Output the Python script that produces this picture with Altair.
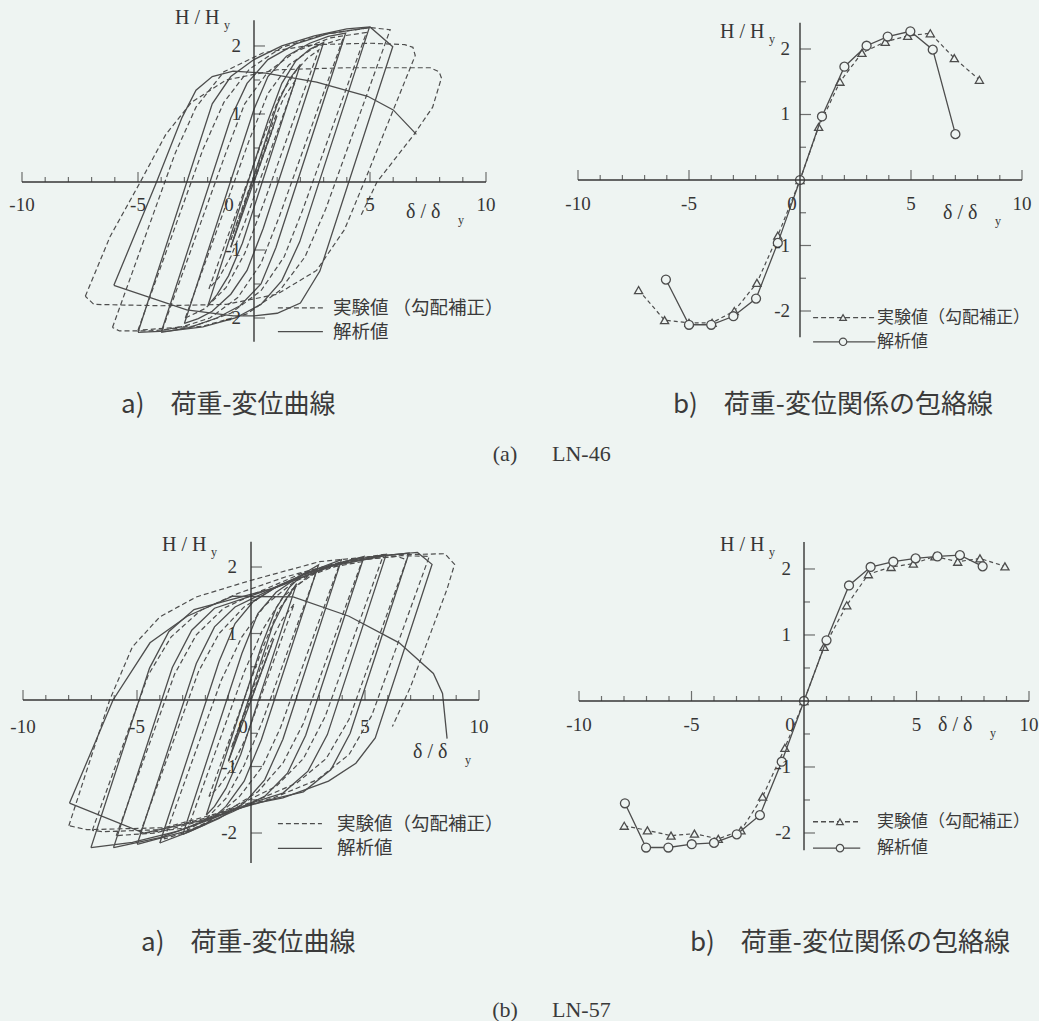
import altair as alt
import pandas as pd

INK = "#363636"
LINE = "#4d4d4d"
BG = "#eef4f2"
SERIF = "Liberation Serif"
JP = "Noto Sans CJK JP"

# ---------------- LN-46 ----------------
# load-displacement loops (δ/δy, H/Hy), one list per loading cycle
ln46_analysis = [
    [(0, 0), (0.99, 0.97), (-1.0, -0.96)],
    [(-1.0, -0.96), (1.0, 1.14), (1.5, 1.5), (2.0, 1.73),
     (-0.5, -0.9), (-1.1, -1.38), (-1.6, -1.66), (-1.98, -1.81)],
    [(-1.98, -1.81), (0.6, 0.9), (1.2, 1.45), (1.8, 1.78), (2.4, 1.95), (3.0, 2.05),
     (0.4, -0.68), (-0.3, -1.3), (-1.0, -1.65), (-1.8, -1.9), (-2.4, -2.01), (-3.0, -2.08)],
    [(-3.0, -2.08), (0.0, 1.07), (0.6, 1.55), (1.4, 1.85), (2.4, 2.04), (3.2, 2.14), (3.95, 2.19),
     (0.95, -0.96), (0.3, -1.5), (-0.6, -1.82), (-1.6, -2.0), (-2.8, -2.14), (-4.0, -2.21)],
    [(-4.0, -2.21), (-1.0, 0.94), (-0.3, 1.45), (0.6, 1.8), (1.8, 2.03), (3.2, 2.18), (4.97, 2.27),
     (1.97, -0.88), (1.2, -1.45), (0.3, -1.8), (-0.8, -2.0), (-2.2, -2.13), (-3.6, -2.19), (-5.0, -2.21)],
    [(-5.0, -2.21), (-1.8, 1.15), (-1.0, 1.55), (0.0, 1.8), (1.2, 2.0), (2.6, 2.15), (4.0, 2.25),
     (5.0, 2.28), (5.98, 1.99),
     (2.84, -1.31), (2.0, -1.78), (1.0, -1.93), (0.0, -1.97), (-0.9, -1.97), (-2.9, -1.88), (-6.04, -1.52)],
    [(-6.04, -1.52), (-4.2, 0.0), (-3.1, 0.95), (-2.5, 1.35), (-1.8, 1.55), (-0.9, 1.63), (0.5, 1.6),
     (2.7, 1.47), (4.9, 1.26), (6.0, 1.06), (7.0, 0.7)],
]

ln46_test = [
    [(0, 0), (0.84, 0.81), (-1.0, -0.85)],
    [(-1.0, -0.85), (0.8, 0.86), (1.3, 1.25), (1.8, 1.5),
     (-0.4, -0.6), (-1.0, -1.1), (-1.5, -1.4), (-1.94, -1.57)],
    [(-1.94, -1.57), (0.4, 0.65), (1.1, 1.25), (1.8, 1.63), (2.3, 1.82), (2.79, 1.94),
     (0.4, -0.33), (-0.4, -1.05), (-1.2, -1.55), (-2.1, -1.86), (-2.96, -2.0)],
    [(-2.96, -2.0), (-0.2, 0.62), (0.6, 1.3), (1.5, 1.72), (2.6, 1.98), (3.84, 2.11),
     (1.1, -0.5), (0.3, -1.2), (-0.7, -1.7), (-1.9, -2.0), (-3.0, -2.12), (-3.96, -2.18)],
    [(-3.96, -2.18), (-1.2, 0.44), (-0.4, 1.15), (0.6, 1.62), (1.8, 1.92), (3.3, 2.12), (4.85, 2.2),
     (2.1, -0.41), (1.3, -1.1), (0.3, -1.6), (-1.0, -1.93), (-2.6, -2.12), (-5.0, -2.18)],
    [(-5.0, -2.18), (-2.2, 0.48), (-1.3, 1.17), (-0.2, 1.66), (1.2, 1.98), (3.0, 2.17), (5.0, 2.27),
     (5.87, 2.24),
     (3.1, -0.39), (2.2, -1.1), (1.1, -1.6), (-0.3, -1.94), (-2.2, -2.12), (-4.5, -2.19), (-5.8, -2.19),
     (-6.1, -2.14)],
    [(-6.1, -2.14), (-3.4, 0.42), (-2.5, 1.1), (-1.3, 1.62), (0.4, 1.9), (2.6, 2.02), (5.0, 2.04),
     (6.5, 2.02), (6.85, 1.98), (6.95, 1.86),
     (4.8, 0.04), (3.9, -0.7), (2.7, -1.3), (1.0, -1.65), (-1.2, -1.8), (-4.0, -1.82), (-6.9, -1.8),
     (-7.27, -1.68)],
    [(-7.27, -1.68), (-6.2, -0.8), (-4.9, 0.0), (-3.8, 0.7), (-2.7, 1.17), (-1.2, 1.5), (1.0, 1.65),
     (4.0, 1.68), (7.6, 1.68), (7.98, 1.62), (8.08, 1.53),
     (7.7, 1.1), (6.9, 0.7), (5.3, 0.0), (4.6, -0.5)],
]

# envelope (peak of each half cycle)
env46_test_x = [-7.27, -6.1, -5.0, -3.96, -2.96, -1.94, -1.0, 0, 0.84, 1.8, 2.79, 3.84, 4.85, 5.87, 6.95, 8.08]
env46_test_y = [-1.68, -2.14, -2.18, -2.18, -2.0, -1.57, -0.85, 0, 0.81, 1.5, 1.94, 2.11, 2.2, 2.24, 1.86, 1.53]
env46_ana_x = [-6.04, -5.0, -4.0, -3.0, -1.98, -1.0, 0, 0.99, 2.0, 3.0, 3.95, 4.97, 5.98, 7.0]
env46_ana_y = [-1.52, -2.21, -2.21, -2.08, -1.81, -0.96, 0, 0.97, 1.73, 2.05, 2.19, 2.27, 1.99, 0.70]

# ---------------- LN-57 ----------------
ln57_analysis = [
    [(0, 0), (1.0, 0.92), (-0.99, -0.92)],
    [(-0.99, -0.92), (0.95, 1.12), (1.5, 1.5), (2.0, 1.75),
     (-0.45, -0.82), (-1.1, -1.33), (-1.6, -1.6), (-1.96, -1.73)],
    [(-1.96, -1.73), (0.45, 0.8), (1.1, 1.38), (1.7, 1.7), (2.3, 1.9), (2.96, 2.03),
     (0.45, -0.6), (-0.3, -1.22), (-1.1, -1.6), (-2.0, -1.87), (-2.99, -2.02)],
    [(-2.99, -2.02), (-0.4, 0.7), (0.3, 1.3), (1.1, 1.62), (2.2, 1.88), (3.97, 2.11),
     (1.4, -0.59), (0.6, -1.2), (-0.3, -1.55), (-1.4, -1.78), (-2.7, -1.98), (-4.0, -2.15)],
    [(-4.0, -2.15), (-1.4, 0.58), (-0.7, 1.15), (0.1, 1.48), (1.2, 1.72), (2.8, 1.96), (4.96, 2.16),
     (2.4, -0.53), (1.6, -1.1), (0.6, -1.45), (-0.8, -1.68), (-2.6, -1.95), (-4.99, -2.17)],
    [(-4.99, -2.17), (-2.4, 0.55), (-1.6, 1.1), (-0.7, 1.4), (0.5, 1.6), (2.2, 1.87), (4.2, 2.09), (5.93, 2.19),
     (3.35, -0.52), (2.5, -1.07), (1.4, -1.4), (0.0, -1.55), (-1.8, -1.8), (-4.0, -2.07), (-6.03, -2.22)],
    [(-6.03, -2.22), (-3.45, 0.49), (-2.6, 1.05), (-1.6, 1.38), (-0.3, 1.53), (1.5, 1.75), (3.6, 2.03),
     (5.6, 2.16), (6.93, 2.21),
     (4.35, -0.5), (3.5, -1.05), (2.3, -1.38), (0.8, -1.5), (-1.0, -1.68), (-3.2, -1.97), (-5.2, -2.14),
     (-7.02, -2.22)],
    [(-7.02, -2.22), (-4.45, 0.48), (-3.6, 1.03), (-2.5, 1.36), (-1.0, 1.5), (1.0, 1.68), (3.5, 2.01),
     (6.0, 2.18), (7.3, 2.22), (7.94, 2.04),
     (5.45, -0.57), (4.6, -0.95), (3.4, -1.22), (1.4, -1.47), (0.1, -1.56), (-2.0, -1.8), (-4.7, -2.0),
     (-7.96, -1.55)],
    [(-7.96, -1.55), (-6.05, 0.0), (-4.43, 0.86), (-2.8, 1.26), (-0.8, 1.56), (1.85, 1.55), (4.3, 1.26),
     (6.5, 0.86), (8.0, 0.4), (8.4, 0.1), (8.6, -0.58)],
]

ln57_test = [
    [(0, 0), (0.89, 0.82), (-0.85, -0.71)],
    [(-0.85, -0.71), (0.75, 0.8), (1.35, 1.2), (1.9, 1.45),
     (-0.2, -0.55), (-0.9, -1.05), (-1.4, -1.3), (-1.84, -1.45)],
    [(-1.84, -1.45), (0.45, 0.73), (1.2, 1.35), (2.0, 1.72), (2.86, 1.92),
     (0.5, -0.32), (-0.3, -0.98), (-1.1, -1.48), (-2.0, -1.8), (-2.8, -1.96)],
    [(-2.8, -1.96), (-0.3, 0.42), (0.5, 1.05), (1.4, 1.55), (2.5, 1.86), (3.87, 2.03),
     (1.3, -0.41), (0.5, -1.0), (-0.5, -1.45), (-1.7, -1.8), (-2.8, -1.98), (-3.81, -2.09)],
    [(-3.81, -2.09), (-1.3, 0.3), (-0.4, 0.95), (0.6, 1.42), (1.9, 1.78), (3.3, 1.98), (4.86, 2.08),
     (2.3, -0.35), (1.4, -0.95), (0.3, -1.38), (-1.0, -1.66), (-2.8, -1.92), (-4.87, -2.01)],
    [(-4.87, -2.01), (-2.3, 0.43), (-1.4, 1.0), (-0.3, 1.4), (1.1, 1.7), (2.8, 1.95), (4.5, 2.12), (5.82, 2.19),
     (3.25, -0.25), (2.3, -0.88), (1.1, -1.3), (-0.4, -1.55), (-2.2, -1.82), (-4.2, -2.0), (-5.91, -2.04)],
    [(-5.91, -2.04), (-3.35, 0.39), (-2.4, 0.98), (-1.2, 1.38), (0.3, 1.62), (2.2, 1.9), (4.5, 2.1),
     (6.4, 2.16), (6.83, 2.11),
     (4.3, -0.29), (3.3, -0.88), (2.0, -1.25), (0.3, -1.5), (-1.7, -1.75), (-4.0, -1.95), (-6.5, -1.98),
     (-6.96, -1.96)],
    [(-6.96, -1.96), (-4.5, 0.38), (-3.5, 0.95), (-2.2, 1.35), (-0.6, 1.6), (1.5, 1.85), (4.0, 2.08),
     (6.6, 2.17), (7.82, 2.16),
     (5.3, -0.23), (4.3, -0.82), (2.9, -1.2), (1.0, -1.47), (-1.2, -1.68), (-3.8, -1.92), (-7.2, -1.95),
     (-7.99, -1.89)],
    [(-7.99, -1.89), (-6.2, 0.0), (-5.2, 0.8), (-4.0, 1.25), (-2.4, 1.55), (0.0, 1.8), (3.0, 2.08),
     (6.0, 2.18), (8.5, 2.2), (8.93, 2.04),
     (8.6, 1.67), (7.0, 0.2), (6.2, -0.4)],
]

env57_test_x = [-7.99, -6.96, -5.91, -4.87, -3.81, -2.8, -1.84, -0.85, 0, 0.89, 1.9, 2.86, 3.87, 4.86, 5.82,
                6.83, 7.82, 8.93]
env57_test_y = [-1.89, -1.96, -2.04, -2.01, -2.09, -1.96, -1.45, -0.71, 0, 0.82, 1.45, 1.92, 2.03, 2.08, 2.19,
                2.11, 2.16, 2.04]
env57_ana_x = [-7.96, -7.02, -6.03, -4.99, -4.0, -2.99, -1.96, -0.99, 0, 1.0, 2.0, 2.96, 3.97, 4.96, 5.93,
               6.93, 7.94]
env57_ana_y = [-1.55, -2.22, -2.22, -2.17, -2.15, -2.02, -1.73, -0.92, 0, 0.92, 1.75, 2.03, 2.11, 2.16, 2.19,
               2.21, 2.04]

# ---------------- axes ----------------
x_minor = [v for v in range(-10, 11) if v % 5 != 0]
x_major = [-10, -5, 5, 10]
x_labels = ["-10", "-5", "5", "10"]
y_minor = [-1.5, -0.5, 0.5, 1.5]
y_major = [-2, -1, 1, 2]
y_labels = ["-2", "-1", "1", "2"]

lbl_test_gap = "実験値 （勾配補正）"
lbl_test = "実験値（勾配補正）"
lbl_ana = "解析値"
cap_loop = "a)　荷重-変位曲線"
cap_env = "b)　荷重-変位関係の包絡線"


def path_frame(cycles):
    rows = [{"x": x, "y": y, "cycle": c, "k": i}
            for c, pts in enumerate(cycles) for i, (x, y) in enumerate(pts)]
    return pd.DataFrame(rows)


def env_frame(xs, ys):
    return pd.DataFrame({"x": xs, "y": ys, "k": list(range(len(xs)))})


def panel(cfg, body):
    xs = alt.Scale(domain=cfg["xdom"], nice=False, zero=False)
    ys = alt.Scale(domain=cfg["ydom"], nice=False, zero=False)
    X = lambda f: alt.X(f"{f}:Q", scale=xs, axis=None)
    Y = lambda f: alt.Y(f"{f}:Q", scale=ys, axis=None)

    layers = [lay(X, Y) for lay in body]

    axis_lines = pd.DataFrame({"x": [-10, 0], "x2": [10, 0],
                               "y": [0, cfg["yaxis"][0]], "y2": [0, cfg["yaxis"][1]]})
    layers.append(alt.Chart(axis_lines).mark_rule(color=INK, strokeWidth=1.4).encode(
        x=X("x"), x2="x2:Q", y=Y("y"), y2="y2:Q"))

    xt_minor = pd.DataFrame({"x": x_minor, "y": 0})
    xt_major = pd.DataFrame({"x": x_major, "y": 0, "t": x_labels})
    layers.append(alt.Chart(xt_minor).mark_tick(orient="vertical", size=5, thickness=1.2, yOffset=-2.5,
                                                color=INK).encode(x=X("x"), y=Y("y")))
    layers.append(alt.Chart(xt_major).mark_tick(orient="vertical", size=10, thickness=1.2, yOffset=-5,
                                                color=INK).encode(x=X("x"), y=Y("y")))
    layers.append(alt.Chart(xt_major).mark_text(font=SERIF, fontSize=19, color=INK, dy=cfg["xdy"]).encode(
        x=X("x"), y=Y("y"), text="t:N"))
    layers.append(alt.Chart(pd.DataFrame({"x": [0], "y": [0], "t": ["0"]})).mark_text(
        font=SERIF, fontSize=19, color=INK, dy=cfg["xdy"], dx=cfg["zero_dx"]).encode(
        x=X("x"), y=Y("y"), text="t:N"))

    yt_minor = pd.DataFrame({"x": 0, "y": y_minor})
    yt_major = pd.DataFrame({"x": 0, "y": y_major, "t": y_labels})
    layers.append(alt.Chart(yt_minor).mark_tick(orient="horizontal", size=6, thickness=1.2, xOffset=3,
                                                color=INK).encode(x=X("x"), y=Y("y")))
    layers.append(alt.Chart(yt_major).mark_tick(orient="horizontal", size=11, thickness=1.2, xOffset=5.5,
                                                color=INK).encode(x=X("x"), y=Y("y")))
    layers.append(alt.Chart(yt_major).mark_text(font=SERIF, fontSize=19, color=INK, align="right",
                                                dx=cfg["ydx"]).encode(x=X("x"), y=Y("y"), text="t:N"))

    # axis titles, placed in panel pixels
    hx, hy = cfg["hlab"]
    dx_, dy_ = cfg["dlab"]
    one = pd.DataFrame({"a": [0]})
    titles = [
        ("H / H", hx, hy, 20), ("y", hx + 49, hy + 7, 12),
        ("δ  /  δ", dx_, dy_, 20), ("y", dx_ + 52, dy_ + 8, 12),
    ]
    for t, px, py, fs in titles:
        layers.append(alt.Chart(one).mark_text(text=t, font=SERIF, fontSize=fs, color=INK, align="left",
                                               baseline="middle").encode(x=alt.value(px), y=alt.value(py)))

    # captions under the panel
    for t, px, py, fs, fnt, al in cfg["captions"]:
        layers.append(alt.Chart(one).mark_text(text=t, font=fnt, fontSize=fs, color="#3a3a3a", align=al,
                                               baseline="middle").encode(x=alt.value(px), y=alt.value(py)))

    return alt.layer(*layers).properties(width=cfg["w"], height=cfg["h"])


def loop_body(test_cycles, ana_cycles, leg, test_label):
    lx0, lx1, ly_t, ly_a, tx = leg

    def test_lines(X, Y):
        return alt.Chart(path_frame(test_cycles)).mark_line(
            color=LINE, strokeWidth=1.2, strokeDash=[5, 3]).encode(
            x=X("x"), y=Y("y"), detail="cycle:N", order="k:Q")

    def ana_lines(X, Y):
        return alt.Chart(path_frame(ana_cycles)).mark_line(
            color=LINE, strokeWidth=1.3).encode(
            x=X("x"), y=Y("y"), detail="cycle:N", order="k:Q")

    def legend(X, Y):
        d = pd.DataFrame({"x": [lx0, lx0], "x2": [lx1, lx1], "y": [ly_t, ly_a],
                          "dash": ["t", "a"], "label": [test_label, lbl_ana], "tx": [tx, tx]})
        lines = alt.Chart(d).mark_rule(color=LINE, strokeWidth=1.3).encode(
            x=X("x"), x2="x2:Q", y=Y("y"),
            strokeDash=alt.StrokeDash("dash:N", scale=alt.Scale(domain=["t", "a"], range=[[5, 3], [1, 0]]),
                                      legend=None))
        texts = alt.Chart(d).mark_text(font=JP, fontSize=18.5, color="#3a3a3a", align="left").encode(
            x=X("tx"), y=Y("y"), text="label:N")
        return alt.layer(lines, texts)

    return [test_lines, ana_lines, legend]


def env_body(tx, ty, ax, ay, leg, test_label):
    lx0, lx1, mx, ly_t, ly_a, txp = leg

    def test_layer(X, Y):
        base = alt.Chart(env_frame(tx, ty))
        return alt.layer(
            base.mark_line(color=LINE, strokeWidth=1.2, strokeDash=[4, 3]).encode(x=X("x"), y=Y("y"),
                                                                                  order="k:Q"),
            base.mark_point(shape="triangle-up", size=66, filled=True, fill=BG, stroke=LINE,
                            strokeWidth=1.3, opacity=1).encode(x=X("x"), y=Y("y")))

    def ana_layer(X, Y):
        base = alt.Chart(env_frame(ax, ay))
        return alt.layer(
            base.mark_line(color=LINE, strokeWidth=1.3).encode(x=X("x"), y=Y("y"), order="k:Q"),
            base.mark_point(shape="circle", size=80, filled=True, fill=BG, stroke=LINE,
                            strokeWidth=1.3, opacity=1).encode(x=X("x"), y=Y("y")))

    def legend(X, Y):
        d = pd.DataFrame({"x": [lx0, lx0], "x2": [lx1, lx1], "y": [ly_t, ly_a], "mx": [mx, mx],
                          "dash": ["t", "a"], "label": [test_label, lbl_ana], "tx": [txp, txp]})
        lines = alt.Chart(d).mark_rule(color=LINE, strokeWidth=1.3).encode(
            x=X("x"), x2="x2:Q", y=Y("y"),
            strokeDash=alt.StrokeDash("dash:N", scale=alt.Scale(domain=["t", "a"], range=[[4, 3], [1, 0]]),
                                      legend=None))
        tri = alt.Chart(d[d.dash == "t"]).mark_point(shape="triangle-up", size=45, filled=True, fill=BG,
                                                     stroke=LINE, strokeWidth=1.2, opacity=1).encode(
            x=X("mx"), y=Y("y"))
        cir = alt.Chart(d[d.dash == "a"]).mark_point(shape="circle", size=55, filled=True, fill=BG,
                                                     stroke=LINE, strokeWidth=1.2, opacity=1).encode(
            x=X("mx"), y=Y("y"))
        texts = alt.Chart(d).mark_text(font=JP, fontSize=17, color="#3a3a3a", align="left").encode(
            x=X("tx"), y=Y("y"), text="label:N")
        return alt.layer(lines, tri, cir, texts)

    return [test_layer, ana_layer, legend]


# panel geometry: both columns share a width, rows are 345 px tall
tl_cfg = dict(w=486, h=345, xdom=[-10.948, 10], ydom=[-2.397, 2.676], yaxis=[-2.35, 2.38],
              xdy=23, zero_dx=-25, ydx=-13, hlab=(175, 18), dlab=(406, 212),
              captions=[(cap_loop, 121, 405, 26, JP, "left"),
                        ("(a)", 505, 454, 22, SERIF, "center"),
                        ("LN-46", 552, 454, 22, SERIF, "left")])
tr_cfg = dict(w=496, h=345, xdom=[-12.342, 10], ydom=[-2.519, 2.748], yaxis=[-2.4, 2.4],
              xdy=24, zero_dx=-8, ydx=-10, hlab=(194, 32), dlab=(417, 213),
              captions=[(cap_env, 147, 405, 26, JP, "left")])
bl_cfg = dict(w=486, h=345, xdom=[-11.009, 10.307], ydom=[-2.481, 2.707], yaxis=[-2.45, 2.38],
              xdy=27, zero_dx=-8, ydx=-14, hlab=(162, 25), dlab=(413, 232),
              captions=[(cap_loop, 141, 423, 26, JP, "left"),
                        ("(b)", 505, 490, 22, SERIF, "center"),
                        ("LN-57", 552, 490, 22, SERIF, "left")])
br_cfg = dict(w=503, h=345, xdom=[-12.356, 10], ydom=[-2.485, 2.742], yaxis=[-2.26, 2.41],
              xdy=24, zero_dx=-14, ydx=-13, hlab=(194, 25), dlab=(412, 205),
              captions=[(cap_env, 164, 423, 26, JP, "left")])

tl = panel(tl_cfg, loop_body(ln46_test, ln46_analysis, (1.03, 2.97, -1.85, -2.2, 3.4), lbl_test_gap))
tr = panel(tr_cfg, env_body(env46_test_x, env46_test_y, env46_ana_x, env46_ana_y,
                            (0.59, 3.4, 1.94, -2.1, -2.47, 3.47), lbl_test))
bl = panel(bl_cfg, loop_body(ln57_test, ln57_analysis, (1.18, 3.11, -1.86, -2.23, 3.77), lbl_test))
br = panel(br_cfg, env_body(env57_test_x, env57_test_y, env57_ana_x, env57_ana_y,
                            (0.4, 2.5, 1.6, -1.83, -2.23, 3.24), lbl_test))

chart = alt.concat(tl, tr, bl, br, columns=2, spacing={"row": 175, "column": 40},
                   bounds="flush").properties(background=BG, padding=0).configure_view(stroke=None)

chart.save("out.html", embed_options={"renderer": "svg", "actions": False})
